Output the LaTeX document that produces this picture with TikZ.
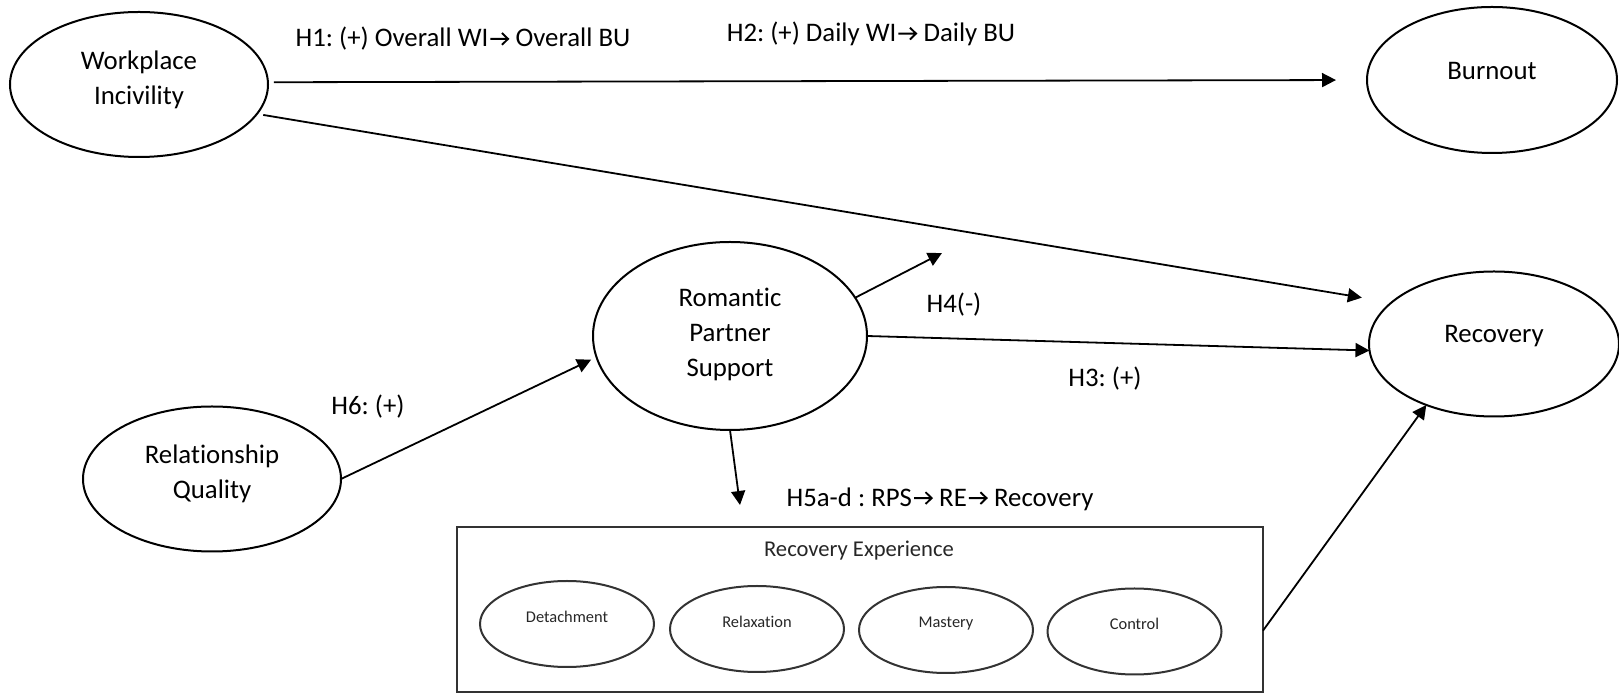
\documentclass[tikz,border=0pt]{standalone}
\usepackage{fontspec}
\setmainfont{Carlito}[Ligatures=NoCommon]
\usetikzlibrary{shapes.geometric,arrows.meta}
\frenchspacing
% open-headed arrow used inside hypothesis labels
\newcommand\hyparrow{\kern0.04em\tikz[baseline=0pt,x=1em,y=1em]
  \draw[line width=0.07em, line cap=butt, line join=miter]
  (0,0.3) -- (0.66,0.3) (0.43,0.52) -- (0.66,0.3) -- (0.43,0.08);\kern0.02em}
% extra depth under the last line: lifts the text inside its ellipse
\newcommand\dropby[1]{\rule[-#1]{0pt}{0pt}}
\begin{document}
\begin{tikzpicture}[x=0.5pt,y=-0.5pt,
  every node/.style={inner sep=0pt, outer sep=0pt},
  construct/.style={ellipse, draw, line width=1pt, align=center,
    font=\fontsize{13.4pt}{17.5pt}\selectfont},
  facet/.style={ellipse, draw=black!80, line width=1pt,
    minimum width=87pt, minimum height=43pt,
    font=\fontsize{8.2pt}{10pt}\selectfont, text=black!85},
  hyp/.style={font=\fontsize{13.4pt}{17.5pt}\selectfont},
  link/.style={line width=0.9pt, -{Triangle[length=7pt,width=7pt]}},
]
\useasboundingbox (0,0) rectangle (1619,694);

% constructs
\node[construct, minimum width=129pt, minimum height=72.5pt] (wi) at (139,84.5)
  {Workplace\\Incivility\dropby{6.8pt}};
\node[construct, minimum width=125pt, minimum height=73pt] (bo) at (1492,80)
  {Burnout\dropby{8.8pt}};
\node[construct, minimum width=125pt, minimum height=72.5pt] (rec) at (1494,344)
  {Recovery\dropby{9.8pt}};
\node[construct, minimum width=137pt, minimum height=94pt] (rps) at (730,336)
  {Romantic\\Partner\\Support\dropby{3.8pt}};
\node[construct, minimum width=129pt, minimum height=72.5pt] (rq) at (212,479)
  {Relationship\\Quality\dropby{6.8pt}};

% recovery experience block
\node[draw=black!80, line width=1pt, minimum width=403pt, minimum height=82.5pt]
  (re) at (860,609.5) {};
\node[font=\fontsize{11.3pt}{13pt}\selectfont, text=black!85] (retitle) at (859,551)
  {Recovery Experience};
\node[facet] (det) at (567,624) {Detachment\dropby{7.5pt}};
\node[facet] (rel) at (757,629) {Relaxation\dropby{7.5pt}};
\node[facet] (mas) at (946,630) {Mastery\dropby{7.5pt}};
\node[facet] (con) at (1134.5,631.5) {Control\dropby{7.5pt}};

% free arrow ends
\coordinate (h4tip) at (942,253);
\coordinate (h5tip) at (740,505);

% paths
\draw[link, shorten <=3pt, shorten >=15.5pt] (wi.1) -- (bo.180);
\draw[link, shorten <=3.2pt, shorten >=15pt] (wi.-14) -- (rec.158);
\draw[link] (rps.17) -- (h4tip);
\draw[link] (rps.east) -- (rec.183);
\draw[link, shorten >=3pt] (rq.east) -- (rps.189);
\draw[link] (rps.south) -- (h5tip);
\draw[link] (re.-3) -- (rec.222);

% hypothesis labels
\node[hyp] (h1) at (463,39) {H1: (+) Overall WI\hyparrow\ Overall BU};
\node[hyp] (h2) at (871,34) {H2: (+) Daily WI\hyparrow\ Daily BU};
\node[hyp] (h4) at (954,305) {H4(-)};
\node[hyp] (h3) at (1105,379) {H3: (+)};
\node[hyp] (h6) at (368,407) {H6: (+)};
\node[hyp] (h5) at (940,499) {H5a-d : RPS\hyparrow\ RE\hyparrow\ Recovery};
\end{tikzpicture}
\end{document}
